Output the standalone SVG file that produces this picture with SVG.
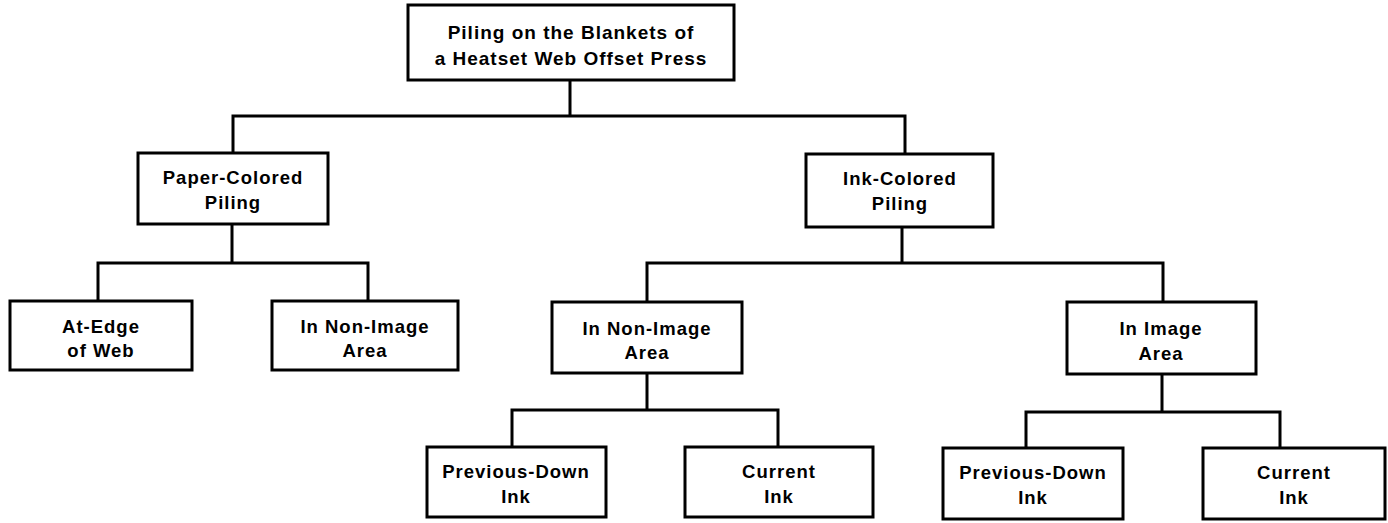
<svg xmlns="http://www.w3.org/2000/svg" width="1388" height="523" viewBox="0 0 1388 523">
<style>
.box{fill:#fff;stroke:#000;stroke-width:3}
.t{font-family:"Liberation Sans",Arial,sans-serif;font-weight:bold;font-size:18.5px;letter-spacing:1px;text-anchor:middle;fill:#000}
.c{fill:none;stroke:#000;stroke-width:3;stroke-linejoin:miter;stroke-linecap:square}
</style>
<rect width="1388" height="523" fill="#fff"/>
<g id="connectors">
<path class="c" d="M570 80 V116 M233 153 V116 H905 V154"/>
<path class="c" d="M232 224 V263 M98 301 V263 H368 V301"/>
<path class="c" d="M902 227 V263 M647 302 V263 H1163 V302"/>
<path class="c" d="M647 373 V410 M512 447 V410 H778 V447"/>
<path class="c" d="M1162 374 V412 M1026 448 V412 H1280 V448"/>
</g>
<g id="root"><rect class="box" x="408" y="5" width="326" height="75"/>
<text class="t" x="571" y="39" style="font-size:19px">Piling on the Blankets of</text>
<text class="t" x="571" y="65" style="font-size:19px">a Heatset Web Offset Press</text></g>
<g id="paper"><rect class="box" x="138" y="153" width="190" height="71"/>
<text class="t" x="233" y="184">Paper-Colored</text><text class="t" x="233" y="209">Piling</text></g>
<g id="ink"><rect class="box" x="806" y="154" width="187" height="73"/>
<text class="t" x="900" y="185">Ink-Colored</text><text class="t" x="900" y="210">Piling</text></g>
<g id="edge"><rect class="box" x="10" y="301" width="182" height="69"/>
<text class="t" x="101" y="333">At-Edge</text><text class="t" x="101" y="357">of Web</text></g>
<g id="paper-nonimage"><rect class="box" x="272" y="301" width="186" height="69"/>
<text class="t" x="365" y="333">In Non-Image</text><text class="t" x="365" y="357">Area</text></g>
<g id="ink-nonimage"><rect class="box" x="552" y="302" width="190" height="71"/>
<text class="t" x="647" y="335">In Non-Image</text><text class="t" x="647" y="359">Area</text></g>
<g id="ink-image"><rect class="box" x="1067" y="302" width="189" height="72"/>
<text class="t" x="1161" y="335">In Image</text><text class="t" x="1161" y="360">Area</text></g>
<g id="nonimage-prev"><rect class="box" x="427" y="447" width="179" height="70"/>
<text class="t" x="516" y="478">Previous-Down</text><text class="t" x="516" y="503">Ink</text></g>
<g id="nonimage-current"><rect class="box" x="685" y="447" width="188" height="70"/>
<text class="t" x="779" y="478">Current</text><text class="t" x="779" y="503">Ink</text></g>
<g id="image-prev"><rect class="box" x="943" y="448" width="180" height="71"/>
<text class="t" x="1033" y="479">Previous-Down</text><text class="t" x="1033" y="504">Ink</text></g>
<g id="image-current"><rect class="box" x="1203" y="448" width="182" height="71"/>
<text class="t" x="1294" y="479">Current</text><text class="t" x="1294" y="504">Ink</text></g>
</svg>
